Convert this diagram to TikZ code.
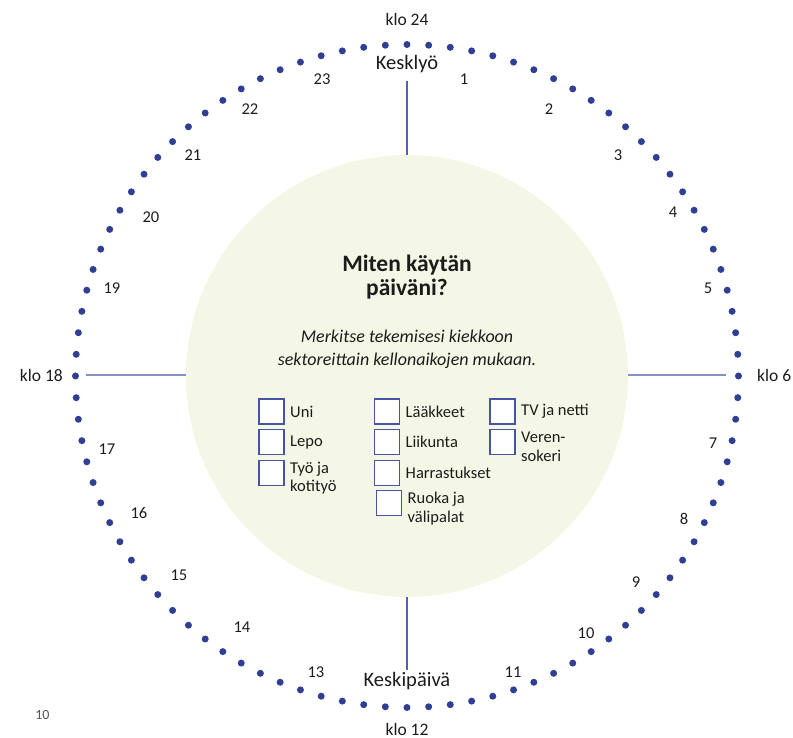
\documentclass[tikz,border=0pt]{standalone}
\usepackage{fontspec}
\setmainfont{Carlito}
\usetikzlibrary{positioning}
\definecolor{ink}{HTML}{1E1B1C}
\definecolor{dotblue}{HTML}{303E93}
\definecolor{rule}{HTML}{5461AA}
\definecolor{rulelight}{HTML}{8690C6}
\definecolor{boxline}{HTML}{4753A3}
\definecolor{discfill}{HTML}{F4F7E5}
\definecolor{folio}{HTML}{555555}
\newcommand{\fs}[2]{\fontsize{#1}{#2}\selectfont}
\tikzset{
  disc/.style={
    circle,
    fill=discfill,
    minimum size=442pt,
    inner sep=0pt
  },
  spoke/.style={
    draw=rule,
    line width=1.2pt
  },
  sidespoke/.style={
    spoke,
    draw=rulelight,
    line width=1.4pt
  },
  hour/.style={
    text=ink,
    font=\fs{16.5}{18},
    inner sep=0pt
  },
  clockmark/.style={
    text=ink,
    font=\fs{17.5}{19},
    inner sep=0pt
  },
  daypart/.style={
    text=ink,
    font=\fs{20.5}{22},
    inner sep=0pt
  },
  title/.style={
    text=ink,
    font=\bfseries\fs{23.5}{23.5},
    align=center,
    inner sep=0pt
  },
  hint/.style={
    text=ink,
    font=\itshape\fs{18}{23},
    align=center,
    inner sep=0pt
  },
  tick/.style={
    draw=boxline,
    fill=white,
    line width=1.1pt,
    minimum width=25pt,
    minimum height=25pt,
    inner sep=0pt
  },
  item/.style={
    text=ink,
    font=\fs{16.5}{18.5},
    align=left,
    inner sep=1pt
  }
}

\begin{document}
\begin{tikzpicture}[x=1pt, y=1pt, node distance=4.5pt]
  \useasboundingbox (-407,-362) rectangle (386,376);

  % dial of quarter hours
  \foreach \i in {0,...,95}
    \fill[dotblue] (90-\i*3.75:331.5) circle (3.5);

  \node[disc] (disc) at (0,0) {};

  \coordinate (topend) at (0,295);
  \coordinate (bottomend) at (0,-294);
  \coordinate (leftend) at (-321,1);
  \coordinate (rightend) at (319,1);
  \draw[spoke] (disc.north) -- (topend);
  \draw[spoke] (disc.south) -- (bottomend);
  \draw[sidespoke] (disc.west |- leftend) -- (leftend);
  \draw[sidespoke] (disc.east |- rightend) -- (rightend);

  \node[clockmark] (k24) at (0,357) {klo 24};
  \node[clockmark] (k12) at (0,-353) {klo 12};
  \node[clockmark, anchor=east] (k18) at (-344,1) {klo 18};
  \node[clockmark, anchor=west] (k6) at (350,1) {klo 6};
  \node[daypart] (midnight) at (0,312) {Kesklyö};
  \node[daypart] (noon) at (0,-305) {Keskipäivä};

  % hour numbers
  \foreach \h/\x/\y in {1/57/297, 2/142/267, 3/211/221, 4/266/164,
      5/301/88, 7/306/-67, 8/277/-143, 9/229/-206, 10/179/-257,
      11/106/-296, 13/-91/-296, 14/-165/-251, 15/-228/-199,
      16/-268/-137, 17/-300/-73, 19/-295/88, 20/-256/159,
      21/-214/221, 22/-157/267, 23/-85/297}
    \node[hour] (h\h) at (\x,\y) {\h};

  \node[title] (title) at (0,99) {Miten käytän\\päiväni?};
  \node[hint] (hint) at (0,27)
    {Merkitse tekemisesi kiekkoon\\sektoreittain kellonaikojen mukaan.};

  % checkboxes
  \node[tick] (uni) at (-135.5,-35.5) {};
  \node[tick, below=of uni] (lepo) {};
  \node[tick, below=of lepo] (tyo) {};
  \node[tick] (laakkeet) at (-20,-35.5) {};
  \node[tick, below=of laakkeet] (liikunta) {};
  \node[tick, below=of liikunta] (harrastus) {};
  \node[tick, below=of harrastus, xshift=2pt] (ruoka) {};
  \node[tick] (tv) at (95.5,-35.5) {};
  \node[tick, below=of tv] (veri) {};

  \node[item, right=of uni] {Uni};
  \node[item, right=of lepo] {Lepo};
  \node[item, right=of tyo.north east, anchor=north west, yshift=-1pt]
    {Työ ja\\kotityö};
  \node[item, right=of laakkeet] {Lääkkeet};
  \node[item, right=of liikunta] {Liikunta};
  \node[item, right=of harrastus] {Harrastukset};
  \node[item, right=of ruoka.north east, anchor=north west, yshift=-1pt]
    {Ruoka ja\\välipalat};
  \node[item, right=of tv] {TV ja netti};
  \node[item, right=of veri.north east, anchor=north west, yshift=-2pt]
    {Veren-\\sokeri};

  \node[text=folio, font=\fs{14}{14}, inner sep=0pt] (page) at (-364.5,-339.5) {10};
\end{tikzpicture}
\end{document}
